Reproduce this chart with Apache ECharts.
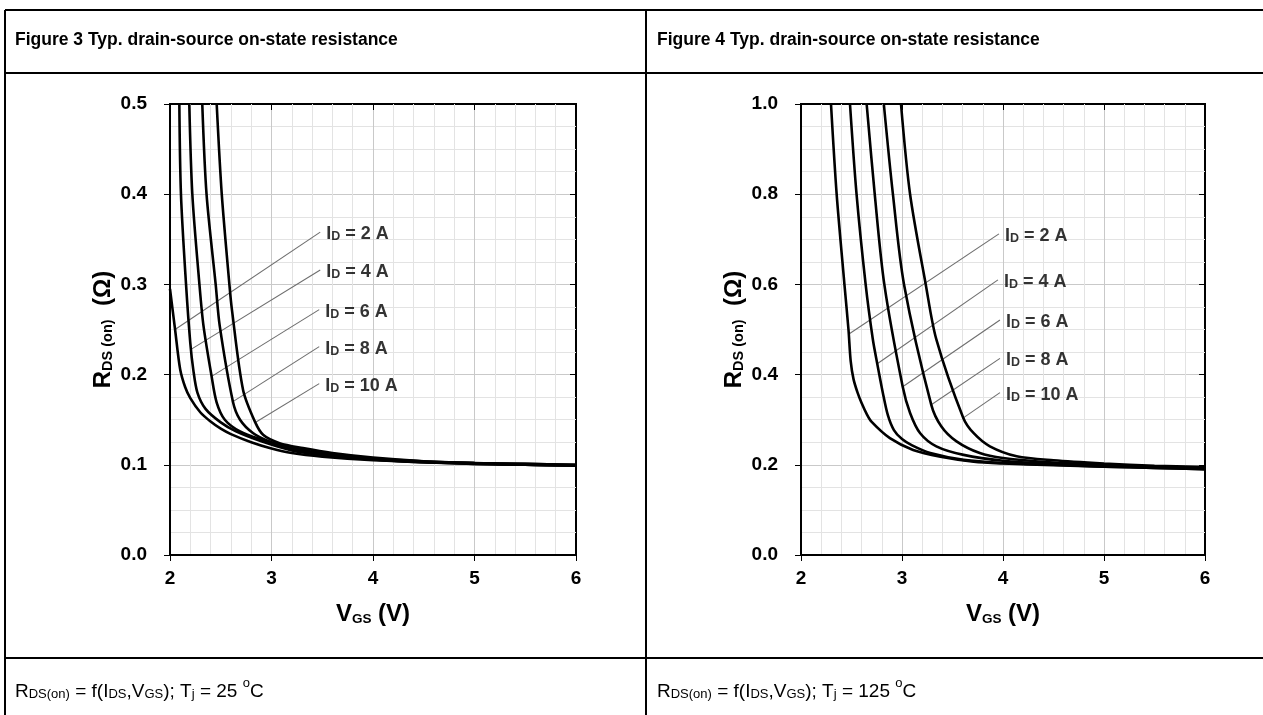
<!DOCTYPE html>
<html>
<head>
<meta charset="utf-8">
<script src="https://cdn.jsdelivr.net/npm/echarts@6/dist/echarts.min.js"></script>
<style>
html,body{margin:0;padding:0;background:#fff;}
#chart{width:1263px;height:715px;}
</style>
</head>
<body>
<div id="chart"></div>
<script>
// ---------- DATA ----------
const xTicks = [2, 3, 4, 5, 6];
const currentLabels = ['2', '4', '6', '8', '10'];

// Figure 3 (Tj = 25 °C): [VGS (V), RDS(on) (Ω)]
const fig3_ID2  = [[2.0,0.295],[2.05,0.25],[2.1,0.206],[2.15,0.186],[2.2,0.174],[2.3,0.158],[2.4,0.148],[2.5,0.14],[2.6,0.134],[2.8,0.125],[3.0,0.118],[3.2,0.113],[3.5,0.109],[4.0,0.105],[4.5,0.103],[5.0,0.101],[5.5,0.1],[6.0,0.099]];
const fig3_ID4  = [[2.092,0.5],[2.108,0.4],[2.158,0.3],[2.2,0.235],[2.23,0.205],[2.27,0.18],[2.35,0.162],[2.5,0.147],[2.65,0.137],[2.9,0.126],[3.2,0.116],[3.5,0.111],[4.0,0.106],[4.5,0.103],[5.0,0.101],[5.5,0.1],[6.0,0.099]];
const fig3_ID6  = [[2.19,0.5],[2.22,0.4],[2.29,0.3],[2.33,0.254],[2.41,0.198],[2.46,0.169],[2.54,0.15],[2.69,0.137],[2.9,0.128],[3.2,0.118],[3.5,0.112],[4.0,0.106],[4.5,0.103],[5.0,0.102],[5.5,0.1],[6.0,0.0995]];
const fig3_ID8  = [[2.318,0.5],[2.36,0.4],[2.45,0.3],[2.49,0.254],[2.62,0.17],[2.69,0.15],[2.82,0.135],[2.98,0.126],[3.2,0.119],[3.5,0.113],[4.0,0.107],[4.5,0.104],[5.0,0.102],[5.5,0.101],[6.0,0.1]];
const fig3_ID10 = [[2.46,0.5],[2.51,0.4],[2.585,0.3],[2.61,0.272],[2.72,0.183],[2.84,0.147],[2.92,0.133],[3.08,0.124],[3.31,0.1185],[3.6,0.113],[4.0,0.108],[4.5,0.104],[5.0,0.102],[5.5,0.101],[6.0,0.1]];

// Figure 4 (Tj = 125 °C)
const fig4_ID2  = [[2.297,1.0],[2.353,0.8],[2.43,0.6],[2.47,0.5],[2.492,0.43],[2.52,0.39],[2.56,0.36],[2.6,0.337],[2.65,0.313],[2.7,0.295],[2.88,0.259],[3.11,0.233],[3.38,0.218],[3.71,0.207],[4.0,0.203],[4.5,0.199],[5.0,0.196],[5.5,0.193],[6.0,0.19]];
const fig4_ID4  = [[2.485,1.0],[2.55,0.8],[2.64,0.6],[2.71,0.48],[2.755,0.424],[2.81,0.36],[2.86,0.31],[2.92,0.277],[3.0,0.257],[3.1,0.243],[3.28,0.226],[3.61,0.211],[4.0,0.204],[4.5,0.2],[5.0,0.196],[5.5,0.193],[6.0,0.19]];
const fig4_ID6  = [[2.65,1.0],[2.73,0.8],[2.825,0.6],[3.007,0.373],[3.08,0.315],[3.18,0.27],[3.34,0.241],[3.61,0.222],[4.0,0.209],[4.5,0.202],[5.0,0.198],[5.5,0.195],[6.0,0.191]];
const fig4_ID8  = [[2.82,1.0],[2.91,0.8],[3.02,0.6],[3.29,0.333],[3.39,0.285],[3.54,0.252],[3.77,0.226],[4.0,0.215],[4.5,0.205],[5.0,0.2],[5.5,0.196],[6.0,0.193]];
const fig4_ID10 = [[2.99,1.0],[3.08,0.8],[3.235,0.6],[3.34,0.478],[3.607,0.304],[3.71,0.27],[3.87,0.241],[4.135,0.219],[4.5,0.21],[5.0,0.203],[5.5,0.198],[6.0,0.195]];

// annotation leader lines: [label anchor, point on curve] in data units
const fig3_leaders = [[[3.48,0.358],[2.05,0.25]],[[3.48,0.316],[2.207,0.228]],[[3.47,0.272],[2.41,0.198]],[[3.47,0.231],[2.62,0.17]],[[3.47,0.19],[2.84,0.147]]];
const fig4_leaders = [[[3.96,0.712],[2.475,0.49]],[[3.95,0.61],[2.755,0.424]],[[3.97,0.521],[3.007,0.373]],[[3.97,0.436],[3.29,0.333]],[[3.97,0.36],[3.607,0.304]]];

// ---------- CHART ----------
const FF = "'Liberation Sans', Arial, Helvetica, sans-serif";
const chart = echarts.init(document.getElementById('chart'), null, {renderer: 'canvas'});

const xNameRich = {
  b: {fontSize: 24, fontWeight: 'bold', color: '#000', fontFamily: FF, lineHeight: 28, verticalAlign: 'bottom'},
  s: {fontSize: 13.5, fontWeight: 'bold', color: '#000', fontFamily: FF, lineHeight: 14, verticalAlign: 'bottom'}
};
const yNameRich = {
  b: {fontSize: 24, fontWeight: 'bold', color: '#000', fontFamily: FF, lineHeight: 28, verticalAlign: 'bottom'},
  s: {fontSize: 14.5, fontWeight: 'bold', color: '#000', fontFamily: FF, lineHeight: 15, verticalAlign: 'bottom'}
};

function xAxisDef(gi, inner, showName) {
  return {
    type: 'value', gridIndex: gi, min: 2, max: 6, interval: 1,
    axisLine: {show: !inner, onZero: false, lineStyle: {color: '#000', width: 2}},
    axisTick: {show: true, inside: inner, length: 6, lineStyle: {color: '#000', width: 1}},
    axisLabel: {show: !inner, margin: 14, fontSize: 19, fontWeight: 'bold', color: '#000', fontFamily: FF},
    splitLine: {show: !inner, showMinLine: false, showMaxLine: false, lineStyle: {color: '#c9c9c9', width: 1}},
    minorTick: {show: false, splitNumber: 5},
    minorSplitLine: {show: !inner, lineStyle: {color: '#e3e3e3', width: 1}},
    name: showName ? '{b|V}{s|GS}{b| (V)}' : '',
    nameLocation: 'middle', nameGap: 43,
    nameTextStyle: {rich: xNameRich}
  };
}
function yAxisDef(gi, inner, max, interval, showName) {
  return {
    type: 'value', gridIndex: gi, min: 0, max: max, interval: interval,
    axisLine: {show: !inner, onZero: false, lineStyle: {color: '#000', width: 2}},
    axisTick: {show: true, inside: inner, length: 6, lineStyle: {color: '#000', width: 1}},
    axisLabel: {show: !inner, margin: 23, fontSize: 19, fontWeight: 'bold', color: '#000', fontFamily: FF,
                formatter: v => v.toFixed(1)},
    splitLine: {show: !inner, showMinLine: false, showMaxLine: false, lineStyle: {color: '#c9c9c9', width: 1}},
    minorTick: {show: false, splitNumber: 4},
    minorSplitLine: {show: !inner, lineStyle: {color: '#e3e3e3', width: 1}},
    name: showName ? '{b|R}{s|DS (on)}{b|  (Ω)}' : '',
    nameLocation: 'middle', nameGap: 55,
    nameTextStyle: {rich: yNameRich}
  };
}

function curve(data, xi, yi) {
  return {
    type: 'line', xAxisIndex: xi, yAxisIndex: yi, data: data,
    symbol: 'none', showSymbol: false, smooth: 0.3,
    lineStyle: {color: '#000', width: 2.6}, z: 3, silent: true, clip: true
  };
}
function leaders(list, xi, yi) {
  return list.map(seg => ({
    type: 'line', xAxisIndex: xi, yAxisIndex: yi, data: seg,
    symbol: 'none', showSymbol: false, lineStyle: {color: '#6e6e6e', width: 1.1}, z: 2, silent: true
  }));
}
const labRich = {
  i: {fontSize: 18, fontWeight: 'bold', color: '#000', fontFamily: FF, lineHeight: 22, verticalAlign: 'bottom'},
  t: {fontSize: 18, fontWeight: 'bold', color: '#000', fontFamily: FF, lineHeight: 22, verticalAlign: 'bottom'},
  d: {fontSize: 12.5, fontWeight: 'bold', color: '#000', fontFamily: FF, lineHeight: 12, verticalAlign: 'bottom'}
};
function labels(list, xi, yi) {
  return {
    type: 'scatter', xAxisIndex: xi, yAxisIndex: yi, symbolSize: 0, silent: true, z: 4,
    data: list.map((seg, i) => ({value: seg[0], name: currentLabels[i]})),
    label: {
      show: true, position: 'right', distance: 6, color: '#000', textBorderWidth: 0,
      formatter: p => '{i|I}{d|D}{t| = ' + p.name + ' A}',
      rich: labRich
    }
  };
}

const footRich = {
  r: {fontSize: 19, fontWeight: 'normal', color: '#000', fontFamily: FF, lineHeight: 24, verticalAlign: 'bottom'},
  s: {fontSize: 13, fontWeight: 'normal', color: '#000', fontFamily: FF, lineHeight: 13, verticalAlign: 'bottom'},
  o: {fontSize: 13, fontWeight: 'normal', color: '#000', fontFamily: FF, lineHeight: 13, verticalAlign: 'top'}
};
const headStyle = {fontSize: 17.5, fontWeight: 'bold', color: '#000', fontFamily: FF};

const border = {stroke: '#000', lineWidth: 2};
const option = {
  animation: false,
  backgroundColor: '#fff',
  graphic: [
    {type: 'line', shape: {x1: 5, y1: 10, x2: 1263, y2: 10}, style: border},
    {type: 'line', shape: {x1: 5, y1: 73, x2: 1263, y2: 73}, style: border},
    {type: 'line', shape: {x1: 5, y1: 658, x2: 1263, y2: 658}, style: border},
    {type: 'line', shape: {x1: 5, y1: 10, x2: 5, y2: 715}, style: border},
    {type: 'line', shape: {x1: 646, y1: 10, x2: 646, y2: 715}, style: border}
  ],
  title: [
    {text: 'Figure 3 Typ. drain-source on-state resistance', left: 15, top: 31, padding: 0, textStyle: headStyle},
    {text: 'Figure 4 Typ. drain-source on-state resistance', left: 657, top: 31, padding: 0, textStyle: headStyle},
    {text: '{r|R}{s|DS(on)}{r| = f(I}{s|DS}{r|,V}{s|GS}{r|); T}{s|j}{r| = 25 }{o|o}{r|C}', left: 15, top: 677, padding: 0,
     textStyle: {fontWeight: 'normal', rich: footRich}},
    {text: '{r|R}{s|DS(on)}{r| = f(I}{s|DS}{r|,V}{s|GS}{r|); T}{s|j}{r| = 125 }{o|o}{r|C}', left: 657, top: 677, padding: 0,
     textStyle: {fontWeight: 'normal', rich: footRich}}
  ],
  grid: [
    {left: 170, top: 104, width: 406, height: 451, show: true, borderColor: '#000', borderWidth: 2, backgroundColor: 'rgba(0,0,0,0)'},
    {left: 801, top: 104, width: 404, height: 451, show: true, borderColor: '#000', borderWidth: 2, backgroundColor: 'rgba(0,0,0,0)'}
  ],
  xAxis: [xAxisDef(0, false, true), xAxisDef(1, false, true), xAxisDef(0, true, false), xAxisDef(1, true, false)],
  yAxis: [yAxisDef(0, false, 0.5, 0.1, true), yAxisDef(1, false, 1.0, 0.2, true), yAxisDef(0, true, 0.5, 0.1, false), yAxisDef(1, true, 1.0, 0.2, false)],
  series: [
    curve(fig3_ID2, 0, 0), curve(fig3_ID4, 0, 0), curve(fig3_ID6, 0, 0), curve(fig3_ID8, 0, 0), curve(fig3_ID10, 0, 0),
    curve(fig4_ID2, 1, 1), curve(fig4_ID4, 1, 1), curve(fig4_ID6, 1, 1), curve(fig4_ID8, 1, 1), curve(fig4_ID10, 1, 1),
    ...leaders(fig3_leaders, 0, 0), ...leaders(fig4_leaders, 1, 1),
    labels(fig3_leaders, 0, 0), labels(fig4_leaders, 1, 1)
  ]
};
chart.setOption(option);
</script>
</body>
</html>
